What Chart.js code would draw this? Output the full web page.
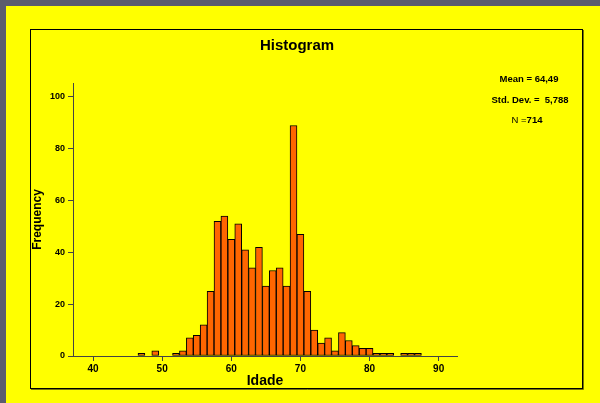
<!DOCTYPE html>
<html>
<head>
<meta charset="utf-8">
<script src="https://cdn.jsdelivr.net/npm/chart.js@4/dist/chart.umd.min.js"></script>
<style>
    html, body { margin: 0; padding: 0; background: #5b5c6e; }
    canvas { display: block; }
</style>
</head>
<body>
<canvas id="histograma" width="600" height="403"></canvas>
<script>
// idade (bin centre) and frequency per bin
const idades = [47, 48, 49, 50, 51, 52, 53, 54, 55, 56, 57, 58, 59, 60, 61, 62, 63, 64, 65, 66, 67,
    68, 69, 70, 71, 72, 73, 74, 75, 76, 77, 78, 79, 80, 81, 82, 83, 84, 85, 86, 87];
const frequencias = [1, 0, 2, 0, 0, 1, 2, 7, 8, 12, 25, 52, 54, 45, 51, 41, 34, 42, 27, 33, 34,
    27, 89, 47, 25, 10, 5, 7, 2, 9, 6, 4, 3, 3, 1, 1, 1, 0, 1, 1, 1];
const xTicks = [40, 50, 60, 70, 80, 90];
const yTicks = [0, 20, 40, 60, 80, 100];
const estatisticas = ['Mean = 64,49', 'Std. Dev. =  5,788'];
const nLabel = 'N =';
const nValue = '714';

const fonte = "'Liberation Sans', Arial, sans-serif";

function buildPoints() {
    let pts = [];
    idades.forEach((idade, i) => {
        pts.push({x: idade, y: frequencias[i] > 0 ? frequencias[i] : null});
    });
    return pts;
}

const fundo = {
    id: 'fundo',
    beforeDraw(chart) {
        const ctx = chart.ctx;
        ctx.save();
        ctx.fillStyle = '#5b5c6e';
        ctx.fillRect(0, 0, 600, 403);
        ctx.fillStyle = '#ffff00';
        ctx.fillRect(6, 6, 594, 397);
        // frame with a little shadow
        ctx.strokeStyle = '#7a7a00';
        ctx.lineWidth = 1;
        ctx.beginPath();
        ctx.moveTo(31, 389.5);
        ctx.lineTo(583.5, 389.5);
        ctx.lineTo(583.5, 30);
        ctx.stroke();
        ctx.strokeStyle = '#000';
        ctx.strokeRect(30.5, 29.5, 552, 359);
        ctx.restore();
    },
    afterDraw(chart) {
        const ctx = chart.ctx;
        ctx.save();
        ctx.fillStyle = '#000';
        ctx.textAlign = 'center';
        ctx.textBaseline = 'middle';
        ctx.font = 'bold 15px ' + fonte;
        ctx.fillText('Histogram', 297, 46);

        ctx.font = 'bold 9.5px ' + fonte;
        ctx.fillText(estatisticas[0], 529, 79);
        ctx.fillText(estatisticas[1], 530, 100);

        ctx.textAlign = 'left';
        ctx.font = '9.5px ' + fonte;
        let w1 = ctx.measureText(nLabel).width;
        ctx.font = 'bold 9.5px ' + fonte;
        let w2 = ctx.measureText(nValue).width;
        let x0 = 527 - (w1 + w2) / 2;
        ctx.font = '9.5px ' + fonte;
        ctx.fillText(nLabel, x0, 120);
        ctx.font = 'bold 9.5px ' + fonte;
        ctx.fillText(nValue, x0 + w1, 120);
        ctx.restore();
    }
};

function drawHistogram() {
    const ctx = document.getElementById('histograma');
    new Chart(ctx, {
        type: 'bar',
        data: {
            datasets: [{
                label: 'Idade',
                data: buildPoints(),
                backgroundColor: '#ff6600',
                borderColor: '#000',
                borderWidth: 1,
                borderSkipped: false,
                barPercentage: 1,
                categoryPercentage: 1
            }]
        },
        options: {
            responsive: false,
            animation: false,
            layout: {
                padding: {left: 28, right: 143, top: 83, bottom: 13}
            },
            plugins: {
                legend: {display: false},
                tooltip: {enabled: false}
            },
            scales: {
                x: {
                    type: 'linear',
                    offset: false,
                    min: 37.1,
                    max: 92.65,
                    afterBuildTicks: scale => { scale.ticks = xTicks.map(v => ({value: v})); },
                    afterFit: scale => { scale.height = 34; },
                    grid: {offset: false, drawOnChartArea: false, tickLength: 5, tickColor: '#444'},
                    border: {color: '#444'},
                    ticks: {
                        color: '#000',
                        padding: 2,
                        maxRotation: 0,
                        font: {family: fonte, size: 10, weight: 'bold'}
                    },
                    title: {
                        display: true,
                        text: 'Idade',
                        color: '#000',
                        padding: {top: 0, bottom: 0},
                        font: {family: fonte, size: 14, weight: 'bold'}
                    }
                },
                y: {
                    min: 0,
                    max: 105.4,
                    afterBuildTicks: scale => { scale.ticks = yTicks.map(v => ({value: v})); },
                    afterFit: scale => { scale.width = 45; },
                    grid: {drawOnChartArea: false, tickLength: 5, tickColor: '#444'},
                    border: {color: '#444'},
                    ticks: {
                        color: '#000',
                        padding: 3,
                        font: {family: fonte, size: 9, weight: 'bold'}
                    },
                    title: {
                        display: true,
                        text: 'Frequency',
                        color: '#000',
                        padding: {top: 2, bottom: 2},
                        font: {family: fonte, size: 12, weight: 'bold'}
                    }
                }
            }
        },
        plugins: [fundo]
    });
}

window.addEventListener('load', evt => drawHistogram());
</script>
</body>
</html>
